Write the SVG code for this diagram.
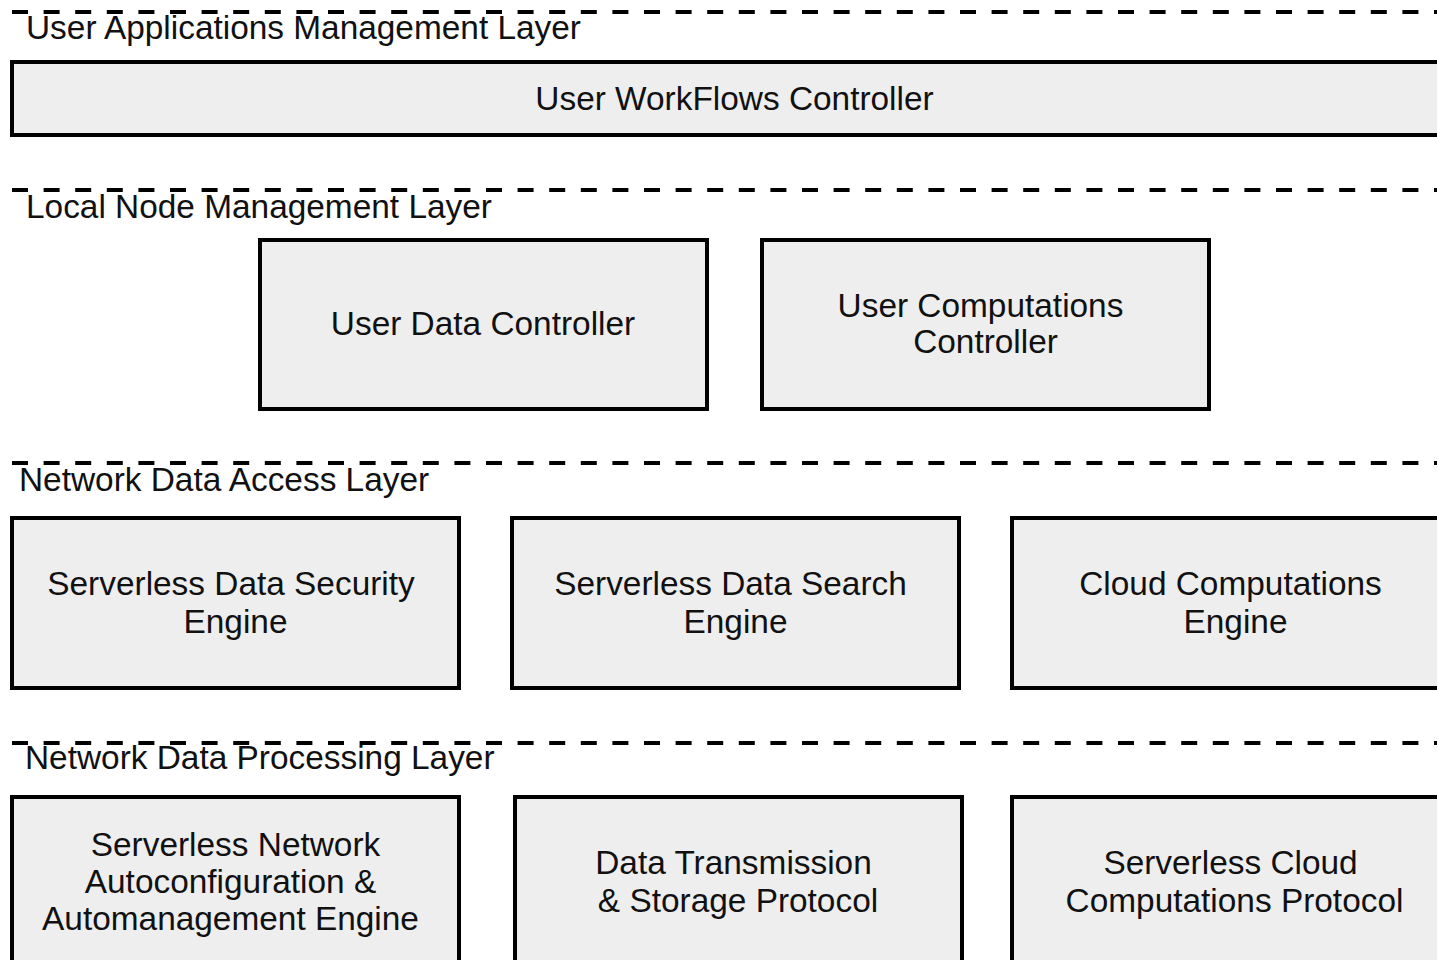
<svg xmlns="http://www.w3.org/2000/svg" width="1437" height="960" viewBox="0 0 1437 960">
<style>
.box{fill:#eeeeee;stroke:#000;stroke-width:4}
.sep{stroke:#000;stroke-width:4;stroke-dasharray:16 15.6;fill:none}
text{font-family:"Liberation Sans",Arial,sans-serif;font-size:33.4px;fill:#111}
.c{text-anchor:middle}
</style>
<rect width="1437" height="960" fill="#fff"/>
<g id="layers">
<line class="sep" x1="12" y1="12" x2="1460" y2="12"/>
<line class="sep" x1="12" y1="190" x2="1460" y2="190"/>
<line class="sep" x1="12" y1="463" x2="1460" y2="463"/>
<line class="sep" x1="12" y1="743" x2="1460" y2="743"/>
<text x="26" y="39">User Applications Management Layer</text>
<text x="26" y="218">Local Node Management Layer</text>
<text x="19" y="491">Network Data Access Layer</text>
<text x="25" y="769">Network Data Processing Layer</text>
</g>
<g id="workflows"><rect class="box" x="12" y="62" width="1446" height="73"/><text class="c" x="734.5" y="110">User WorkFlows Controller</text></g>
<g id="userdata"><rect class="box" x="260" y="240" width="447" height="169"/><text class="c" x="483" y="335">User Data Controller</text></g>
<g id="usercomp"><rect class="box" x="762" y="240" width="447" height="169"/><text class="c"><tspan x="980.5" y="317">User Computations</tspan><tspan x="985.5" y="353">Controller</tspan></text></g>
<g id="security"><rect class="box" x="12" y="518" width="447" height="170"/><text class="c"><tspan x="231" y="595">Serverless Data Security</tspan><tspan x="235.5" y="633">Engine</tspan></text></g>
<g id="search"><rect class="box" x="512" y="518" width="447" height="170"/><text class="c"><tspan x="730.5" y="595">Serverless Data Search</tspan><tspan x="735.5" y="633">Engine</tspan></text></g>
<g id="cloudengine"><rect class="box" x="1012" y="518" width="447" height="170"/><text class="c"><tspan x="1230.5" y="595">Cloud Computations</tspan><tspan x="1235.5" y="633">Engine</tspan></text></g>
<g id="autoconf"><rect class="box" x="12" y="797" width="447" height="200"/><text class="c"><tspan x="235.5" y="856">Serverless Network</tspan><tspan x="230.5" y="893">Autoconfiguration &amp;</tspan><tspan x="230.5" y="930">Automanagement Engine</tspan></text></g>
<g id="transmission"><rect class="box" x="515" y="797" width="447" height="200"/><text class="c"><tspan x="733.5" y="874">Data Transmission</tspan><tspan x="738" y="912">&amp; Storage Protocol</tspan></text></g>
<g id="cloudproto"><rect class="box" x="1012" y="797" width="447" height="200"/><text class="c"><tspan x="1230.5" y="874">Serverless Cloud</tspan><tspan x="1234.5" y="912">Computations Protocol</tspan></text></g>
<g id="connectors"></g>
</svg>
